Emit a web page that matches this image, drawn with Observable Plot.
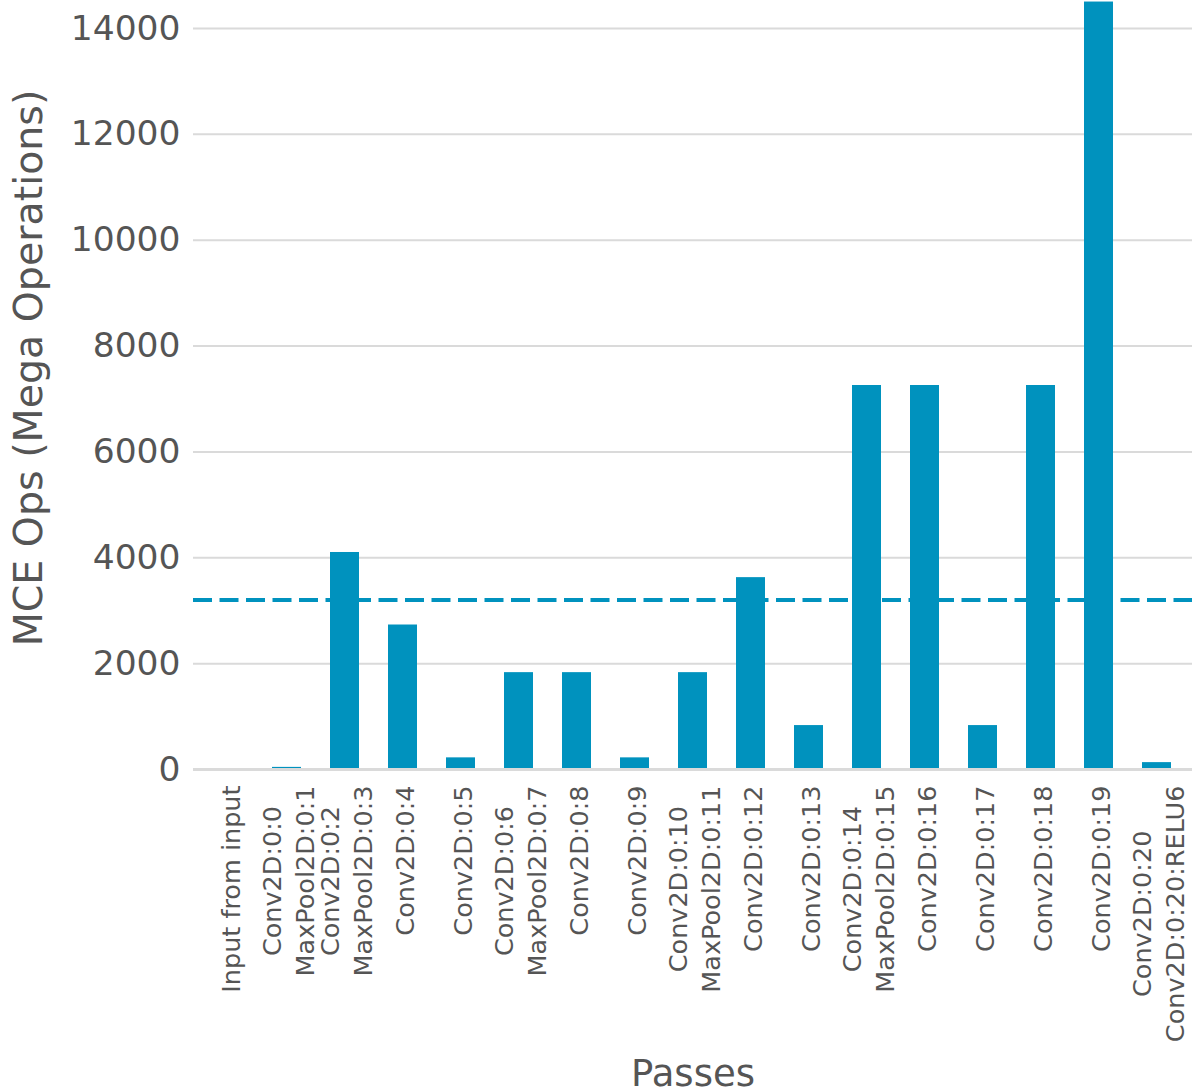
<!DOCTYPE html>
<html>
<head>
<meta charset="utf-8">
<script src="https://cdn.jsdelivr.net/npm/d3@7"></script>
<script src="https://cdn.jsdelivr.net/npm/@observablehq/plot@0.6"></script>
<style>
  html, body { margin: 0; padding: 0; background: #ffffff; }
  #chart { width: 1199px; height: 1092px; }
</style>
</head>
<body>
<div id="chart"></div>
<script>
// Passes of the compiled network (multi-part passes are on two lines)
const passes = [
  "Input from input",
  "Conv2D:0:0\nMaxPool2D:0:1",
  "Conv2D:0:2\nMaxPool2D:0:3",
  "Conv2D:0:4",
  "Conv2D:0:5",
  "Conv2D:0:6\nMaxPool2D:0:7",
  "Conv2D:0:8",
  "Conv2D:0:9",
  "Conv2D:0:10\nMaxPool2D:0:11",
  "Conv2D:0:12",
  "Conv2D:0:13",
  "Conv2D:0:14\nMaxPool2D:0:15",
  "Conv2D:0:16",
  "Conv2D:0:17",
  "Conv2D:0:18",
  "Conv2D:0:19",
  "Conv2D:0:20\nConv2D:0:20:RELU6"
];

// MCE operations per pass, in mega operations
const mceOps = [0, 40, 4100, 2730, 220, 1830, 1830, 220, 1830, 3625, 830, 7255, 7255, 830, 7255, 14500, 130];

// Value-axis ticks
const yTicks = [0, 2000, 4000, 6000, 8000, 10000, 12000, 14000];

const barColor = "#0092be";
const gridColor = "#dadada";
const textColor = "#555555";

const data = passes.map((pass, i) => ({pass, ops: mceOps[i]}));
const meanOps = d3.mean(mceOps);

const chart = Plot.plot({
  width: 1199,
  height: 1092,
  marginLeft: 193,
  marginRight: 7,
  marginTop: 0,
  marginBottom: 323,
  style: {fontFamily: "DejaVu Sans", color: textColor, background: "#ffffff", overflow: "visible"},
  x: {domain: passes, paddingInner: 0.5, paddingOuter: 0.25, axis: null},
  y: {domain: [0, 14000], range: [769, 28], axis: null},
  marks: [
    Plot.gridY(yTicks, {stroke: gridColor, strokeOpacity: 1, strokeWidth: 2}),
    Plot.barY(data, {x: "pass", y: "ops", fill: barColor}),
    Plot.ruleY([0], {stroke: gridColor, strokeWidth: 3}),
    Plot.ruleY([meanOps], {stroke: barColor, strokeWidth: 4, strokeDasharray: "19,7.5"}),
    Plot.axisY(yTicks, {
      tickSize: 0, tickPadding: 13, fontSize: 34.5, fill: textColor,
      tickFormat: d => String(d), label: null
    }),
    // rotated pass names under the bars
    Plot.text(data, {
      x: "pass", text: "pass", frameAnchor: "bottom", dy: 16,
      rotate: -90, textAnchor: "middle", lineAnchor: "middle", lineHeight: 1.3,
      fontSize: 25.5, fill: textColor
    }),
    // axis titles
    Plot.text(["MCE Ops (Mega Operations)"], {
      frameAnchor: "left", dx: -164, dy: -17, rotate: -90,
      textAnchor: "middle", lineAnchor: "middle", fontSize: 39.5, fill: textColor
    }),
    Plot.text(["Passes"], {
      frameAnchor: "bottom", dy: 305, textAnchor: "middle", lineAnchor: "middle",
      fontSize: 37, fill: textColor
    })
  ]
});

document.getElementById("chart").append(chart);

// Hang each rotated pass label from the axis: its top end sits just below the baseline,
// with the lines of two-line labels centred on one another.
const labelGroup = Array.from(chart.querySelectorAll('g[aria-label="text"]'))
  .find(g => g.querySelectorAll(":scope > text").length === passes.length);
if (labelGroup) {
  labelGroup.querySelectorAll(":scope > text").forEach(t => {
    const w = t.getBBox().width;
    const tr = t.getAttribute("transform") || "";
    t.setAttribute("transform", `${tr} translate(${-w / 2},0)`);
  });
}
</script>
</body>
</html>
